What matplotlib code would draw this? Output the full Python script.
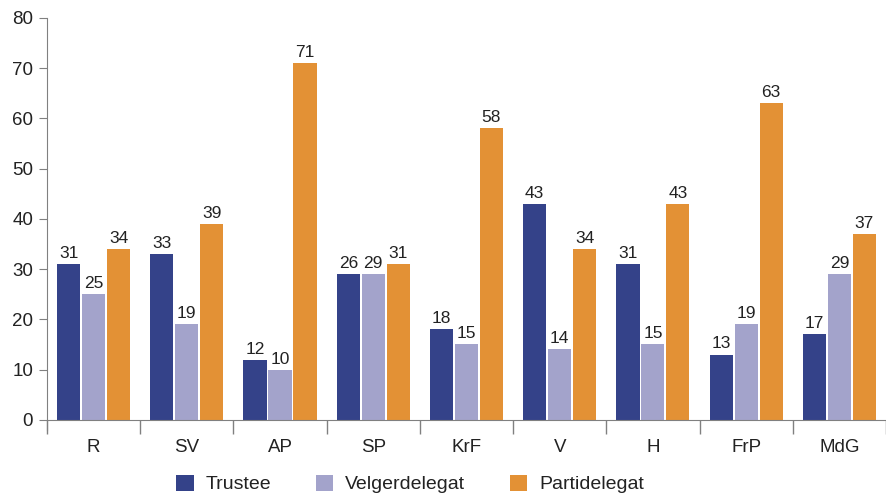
import numpy as np
import matplotlib.pyplot as plt

plt.rcParams['font.family'] = ['Liberation Sans', 'DejaVu Sans']

# Data
parties = ['R', 'SV', 'AP', 'SP', 'KrF', 'V', 'H', 'FrP', 'MdG']
trustee = [31, 33, 12, 29, 18, 43, 31, 13, 17]
trustee_labels = ['31', '33', '12', '26', '18', '43', '31', '13', '17']
velger = [25, 19, 10, 29, 15, 14, 15, 19, 29]
parti = [34, 39, 71, 31, 58, 34, 43, 63, 37]

series = [('Trustee', trustee, trustee_labels, '#344289'),
          ('Velgerdelegat', velger, None, '#A3A3CB'),
          ('Partidelegat', parti, None, '#E39135')]

fig = plt.figure(figsize=(8.86, 4.98), dpi=100)
ax = fig.add_axes([0.053, 0.157, 0.947, 0.807])

x = np.arange(len(parties))
w = 0.248
offs = [-0.268, 0, 0.268]
txt = '#222222'
for (name, vals, labs, col), off in zip(series, offs):
    bars = ax.bar(x + off, vals, w, color=col, label=name)
    if labs is None:
        labs = [str(v) for v in vals]
    for b, lab in zip(bars, labs):
        ax.text(b.get_x() + b.get_width() / 2, b.get_height() + 0.6, lab,
                ha='center', va='bottom', fontsize=12.5, color=txt)

ax.set_xlim(-0.5, len(parties) - 0.5)
ax.set_ylim(0, 80)
ax.set_yticks(range(0, 81, 10))
ax.set_xticks(x)
ax.set_xticklabels(parties)
ax.set_xticks(np.arange(-0.5, len(parties)), minor=True)
ax.tick_params(axis='x', which='major', length=0, pad=14, labelsize=13.5, labelcolor=txt)
ax.tick_params(axis='x', which='minor', length=10, color='#808080', width=1)
ax.tick_params(axis='y', length=6, color='#808080', labelsize=13.5, labelcolor=txt, pad=4)

for s in ['top', 'right']:
    ax.spines[s].set_visible(False)
ax.spines['left'].set_color('#808080')
ax.spines['bottom'].set_color('#808080')
ax.spines['left'].set_bounds(-2, 80)
ax.spines['left'].set_clip_on(False)

fig.legend(loc='center', bbox_to_anchor=(0.463, 0.028), ncol=3, frameon=False,
           fontsize=14, handlelength=0.88, handleheight=0.88, handletextpad=0.62,
           columnspacing=2.3, labelcolor=txt)

plt.savefig('out.png', dpi=100)
